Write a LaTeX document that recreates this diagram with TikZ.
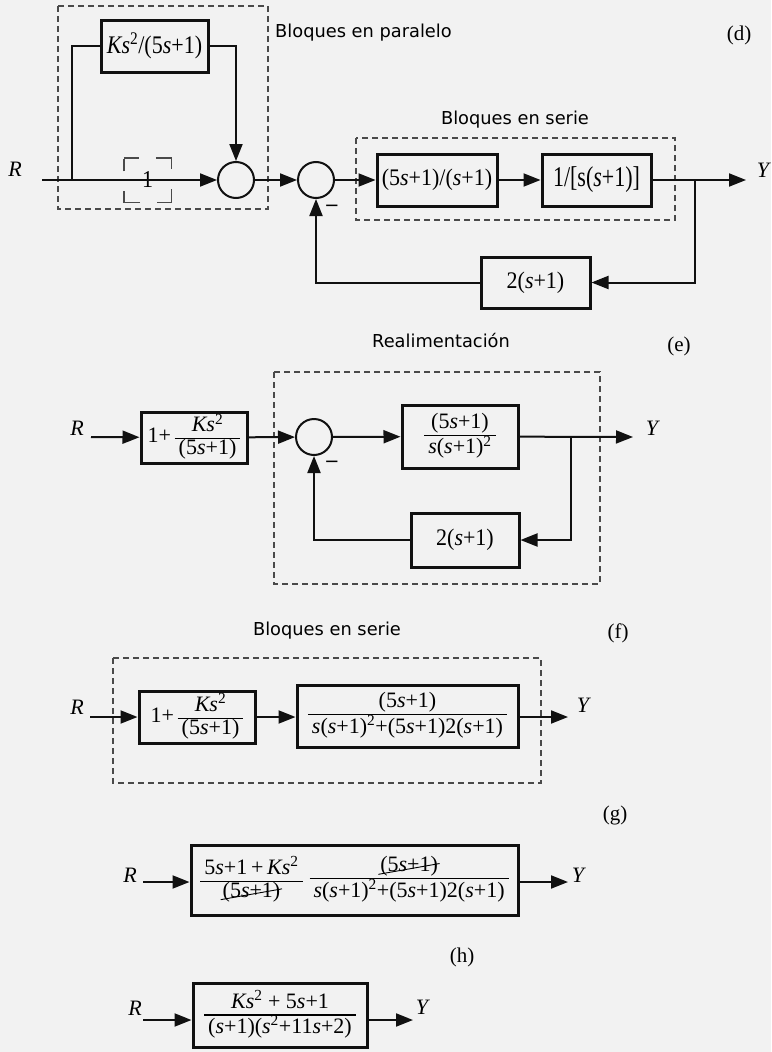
\documentclass[tikz,border=0pt]{standalone}
\usepackage{fontspec}
\setmainfont{Liberation Serif}
\newfontfamily\labelsans{DejaVu Sans}
\usepackage{graphicx}
\usetikzlibrary{arrows.meta}

\definecolor{bg}{HTML}{F2F2F2}
\definecolor{ink}{HTML}{111111}
\definecolor{frame}{HTML}{4A4A4A}

% italic variable, squared exponent
\newcommand\iv[1]{\textit{#1}}
\newcommand\sq{\textsuperscript{2}}
% vertically stretched block text
\newcommand\vs[2]{\scalebox{1}[#1]{#2}}
% stacked fraction with a ruled bar
\newcommand\fr[2]{{\renewcommand\arraystretch{0.82}\setlength\arrayrulewidth{1.2pt}%
  \begin{tabular}{@{\hspace{4pt}}c@{\hspace{4pt}}}#1\\\hline #2\end{tabular}}}
% slanted cancel stroke
\newsavebox\strkbox
\newcommand\strk[1]{\sbox\strkbox{#1}%
  \makebox[0pt][l]{\hspace{-2pt}\raisebox{-3pt}{\rotatebox{10}{\rule{1.08\wd\strkbox}{0.9pt}}}}\usebox\strkbox}

\tikzset{
  blk/.style={draw=ink, line width=3pt, inner sep=0pt, font=\fontsize{22}{26}\selectfont},
  sumj/.style={circle, draw=ink, line width=2pt, minimum size=36pt, inner sep=0pt},
  wire/.style={draw=ink, line width=2pt},
  flow/.style={wire, -{Triangle[length=17pt,width=13pt]}},
  grp/.style={draw=frame, line width=1.1pt, dash pattern=on 6pt off 4pt},
  sig/.style={font=\fontsize{22}{26}\selectfont\itshape, inner sep=0pt},
  tagtext/.style={font=\fontsize{21}{25}\selectfont, inner sep=0pt},
  captext/.style={font=\labelsans\fontsize{17.8}{21}\selectfont, inner sep=0pt},
  neg/.style={font=\labelsans\fontsize{18}{21}\selectfont, inner sep=0pt},
}

\begin{document}
\begin{tikzpicture}[x=1pt, y=-1pt]
\fill[bg] (0,0) rectangle (771,1052);
\useasboundingbox (0,0) rectangle (771,1052);

% ---------------- (d) parallel + series + feedback ----------------
\node[tagtext] (td) at (739,35) {(d)};
\node[captext, anchor=base west] (cpar) at (275,37) {Bloques en paralelo};
\node[captext, anchor=base] (cser) at (515,124) {Bloques en serie};
\draw[grp] (58,6) rectangle (268,209);
\draw[grp] (356,138) rectangle (675,220);

\node[sig] (Rd) at (15,169) {R};
\node[sig] (Yd) at (763,170) {Y};
\coordinate (sd) at (42,180);
\coordinate (bd) at (72,180);
\coordinate (od) at (695,180);
\coordinate (ed) at (746,180);

\node[blk, minimum width=107pt, minimum height=52pt] (kp) at (154.5,46)
  {\vs{1.15}{\iv{Ks}\sq/(5\iv{s}+1)}};
\node[inner sep=0pt, minimum width=47pt, minimum height=44pt,
  font=\fontsize{22}{26}\selectfont] (one) at (147.5,180) {\vs{1.1}{1}};
\draw[draw=frame, line width=1.4pt,
  dash pattern=on 15pt off 17pt on 27pt off 20pt on 27pt off 17pt on 27pt off 20pt on 12pt]
  (one.north west) -- (one.north east) -- (one.south east) -- (one.south west) -- cycle;
\node[sumj] (s1) at (236,180) {};
\node[sumj] (s2) at (316,180) {};
\node[neg] (m1) at (332,208) {−};
\node[blk, minimum width=120pt, minimum height=52pt] (b1) at (437,180)
  {\vs{1.08}{(5\iv{s}+1)/(\iv{s}+1)}};
\node[blk, minimum width=109pt, minimum height=52pt] (b2) at (596.5,180)
  {\vs{1.3}{1/[s(\iv{s}+1)]}};
\node[blk, minimum width=109pt, minimum height=51pt] (h1) at (535.5,282.5)
  {\vs{1.08}{2(\iv{s}+1)}};

\draw[flow] (sd) -- (s1);
\draw[wire] (bd) |- (kp.west);
\draw[flow] (kp.east) -| (s1);
\draw[flow] (s1) -- (s2);
\draw[flow] (s2) -- (b1);
\draw[flow] (b1) -- (b2);
\draw[flow] (b2) -- (ed);
\draw[flow] (od) |- (h1.east);
\draw[flow] (h1.west) -| (s2);

% ---------------- (e) feedback loop ----------------
\node[tagtext] (te) at (679,346) {(e)};
\node[captext, anchor=base] (creal) at (441,347) {Realimentación};
\draw[grp] (274,372) rectangle (600,584);

\node[sig] (Re) at (77,428) {R};
\node[sig] (Ye) at (652,428) {Y};
\coordinate (se) at (91,437);
\coordinate (oe) at (571,437);
\coordinate (ee) at (633,437);

\node[blk, minimum width=106pt, minimum height=51pt] (e1) at (194,437.5)
  {1+\,\fr{\iv{Ks}\sq}{(5\iv{s}+1)}};
\node[sumj] (s3) at (314,437) {};
\node[neg] (m2) at (332,464) {−};
\node[blk, minimum width=116pt, minimum height=63pt] (e2) at (460,436.5)
  {\fr{(5\iv{s}+1)}{\iv{s}(\iv{s}+1)\sq}};
\node[blk, minimum width=108pt, minimum height=54pt] (h2) at (465,540)
  {\vs{1.08}{2(\iv{s}+1)}};

\draw[flow] (se) -- (e1);
\draw[flow] (e1) -- (s3);
\draw[flow] (s3) -- (e2);
\draw[flow] (e2) -- (ee);
\draw[flow] (oe) |- (h2.east);
\draw[flow] (h2.west) -| (s3);

% ---------------- (f) series blocks ----------------
\node[tagtext] (tf) at (618,633) {(f)};
\node[captext, anchor=base] (cser2) at (327,635) {Bloques en serie};
\draw[grp] (113,658) rectangle (541,783);

\node[sig] (Rf) at (77,707) {R};
\node[sig] (Yf) at (583,705) {Y};
\coordinate (sf) at (90,717);
\coordinate (ef) at (568,717);

\node[blk, minimum width=116pt, minimum height=52pt] (f1) at (197,717)
  {1+\,\fr{\iv{Ks}\sq}{(5\iv{s}+1)}};
\node[blk, minimum width=221pt, minimum height=62pt] (f2) at (407.5,716)
  {\fr{(5\iv{s}+1)}{\iv{s}(\iv{s}+1)\sq+(5\iv{s}+1)2(\iv{s}+1)}};

\draw[flow] (sf) -- (f1.west |- sf);
\draw[flow] (f1.east |- sf) -- (f2.west |- sf);
\draw[flow] (f2.east |- sf) -- (ef);

% ---------------- (g) single block with cancellation ----------------
\node[tagtext] (tg) at (615,815) {(g)};
\node[sig] (Rg) at (130,875) {R};
\node[sig] (Yg) at (578,875) {Y};
\coordinate (sg) at (143,882);
\coordinate (eg) at (568,882);

\node[blk, minimum width=327pt, minimum height=70pt] (g1) at (354.5,880)
  {\fr{5\iv{s}+1\,+\,\iv{Ks}\sq}{\strk{(5\iv{s}+1)}}\hspace{7pt}%
   \fr{\strk{(5\iv{s}+1)}}{\iv{s}(\iv{s}+1)\sq+(5\iv{s}+1)2(\iv{s}+1)}};

\draw[flow] (sg) -- (g1.west |- sg);
\draw[flow] (g1.east |- sg) -- (eg);

% ---------------- (h) reduced transfer function ----------------
\node[tagtext] (th) at (462,957) {(h)};
\node[sig] (Rh) at (135,1008) {R};
\node[sig] (Yh) at (422,1007) {Y};
\coordinate (sh) at (143,1020);
\coordinate (eh) at (413,1020);

\node[blk, minimum width=174pt, minimum height=64pt] (k1) at (280,1015)
  {\fr{\iv{Ks}\sq{} + 5\iv{s}+1}{(\iv{s}+1)(\iv{s}\sq+11\iv{s}+2)}};

\draw[flow] (sh) -- (k1.west |- sh);
\draw[flow] (k1.east |- sh) -- (eh);
\end{tikzpicture}
\end{document}
